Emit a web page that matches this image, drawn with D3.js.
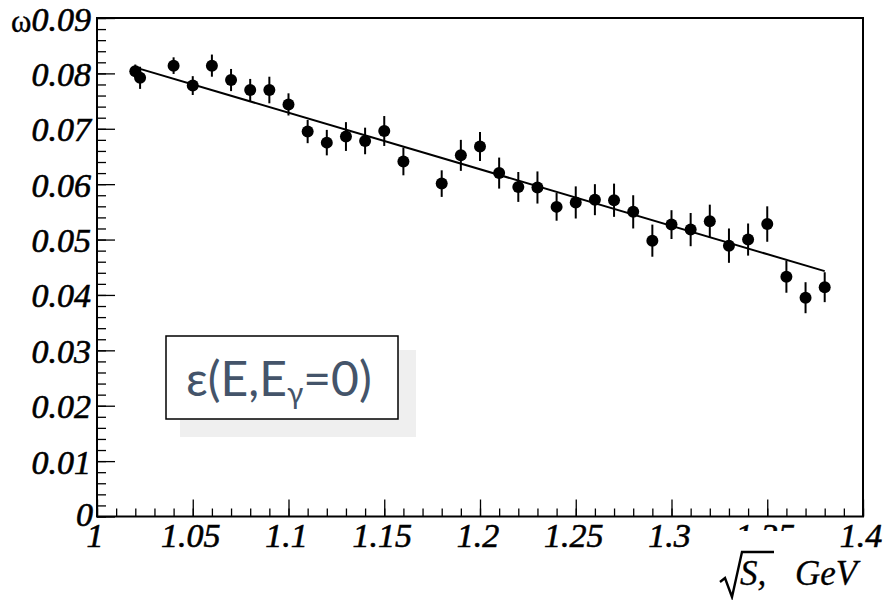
<!DOCTYPE html>
<html>
<head>
<meta charset="utf-8">
<title>omega vs sqrt(s)</title>
<script src="https://d3js.org/d3.v7.min.js"></script>
<style>
body { margin: 0; background: #fff; }
svg { display: block; background: #fff; }
.lbl { font-family: 'Liberation Serif', 'Times New Roman', serif; font-style: italic; font-size: 34px; fill: #000; stroke: #000; stroke-width: 0.6px; }
.title { font-family: 'Liberation Serif', 'Times New Roman', serif; font-style: italic; font-size: 35px; fill: #000; stroke: #000; stroke-width: 0.3px; }
.tick line { stroke: #000; stroke-width: 1.3px; }
.domain { display: none; }
</style>
</head>
<body>
<div id="chart"></div>
<script>
// measured points: sqrt(s) in GeV, omega and its error
var sqrtS = [1.02, 1.0225, 1.04, 1.05, 1.06, 1.07, 1.08, 1.09, 1.10, 1.11, 1.12, 1.13, 1.14, 1.15, 1.16,
             1.18, 1.19, 1.20, 1.21, 1.22, 1.23, 1.24, 1.25, 1.26, 1.27, 1.28, 1.29, 1.30, 1.31, 1.32,
             1.33, 1.34, 1.35, 1.36, 1.37, 1.38];
var omega = [0.0804, 0.0792, 0.0814, 0.0778, 0.0814, 0.0788, 0.0770, 0.0770, 0.0744, 0.0695, 0.0675, 0.0686, 0.0678, 0.0696, 0.0641,
             0.0601, 0.0652, 0.0668, 0.0620, 0.0595, 0.0594, 0.0559, 0.0567, 0.0572, 0.0571, 0.0550, 0.0498, 0.0527, 0.0518, 0.0533,
             0.0489, 0.0500, 0.0528, 0.0433, 0.0395, 0.0414];
var omegaErr = [0.0012, 0.0020, 0.0015, 0.0017, 0.0020, 0.0020, 0.0020, 0.0024, 0.0020, 0.0021, 0.0023, 0.0026, 0.0024, 0.0027, 0.0025,
                0.0024, 0.0028, 0.0026, 0.0028, 0.0027, 0.0029, 0.0025, 0.0029, 0.0028, 0.0030, 0.0030, 0.0029, 0.0026, 0.0030, 0.0030,
                0.0031, 0.0029, 0.0032, 0.0029, 0.0028, 0.0027];
// straight-line fit
var fitX = [1.0207, 1.38];
var fitY = [0.0810, 0.0443];

var xTicks = [1, 1.05, 1.1, 1.15, 1.2, 1.25, 1.3, 1.35, 1.4];
var xTickLabels = ["1", "1.05", "1.1", "1.15", "1.2", "1.25", "1.3", "1.35", "1.4"];
var yTicks = [0, 0.01, 0.02, 0.03, 0.04, 0.05, 0.06, 0.07, 0.08, 0.09];
var yTickLabels = ["0", "0.01", "0.02", "0.03", "0.04", "0.05", "0.06", "0.07", "0.08", "0.09"];

var width = 890, height = 600;
var x = d3.scaleLinear().domain([1, 1.4]).range([97, 863]);
var y = d3.scaleLinear().domain([0, 0.09]).range([516.5, 18]);

var svg = d3.select("#chart").append("svg")
    .attr("width", width).attr("height", height);

// ticks (inside the frame)
var xMinor = d3.range(0, 41).map(function(i) { return 1 + i * 0.01; });
var yMinor = d3.range(0, 46).map(function(i) { return i * 0.002; });

svg.append("g").attr("transform", "translate(0," + y(0) + ")")
    .call(d3.axisBottom(x).tickValues(xMinor).tickSize(-8).tickFormat(""));
svg.append("g").attr("transform", "translate(0," + y(0) + ")")
    .call(d3.axisBottom(x).tickValues(xTicks).tickSize(-17).tickFormat(""));
svg.append("g").attr("transform", "translate(" + x(1) + ",0)")
    .call(d3.axisLeft(y).tickValues(yMinor).tickSize(-9).tickFormat(""));
svg.append("g").attr("transform", "translate(" + x(1) + ",0)")
    .call(d3.axisLeft(y).tickValues(yTicks).tickSize(-18).tickFormat(""));

// frame
svg.append("rect")
    .attr("x", x(1)).attr("y", y(0.09))
    .attr("width", x(1.4) - x(1)).attr("height", y(0) - y(0.09))
    .attr("fill", "none").attr("stroke", "#000").attr("stroke-width", 2);

// tick labels
svg.append("g").selectAll("text")
    .data(xTicks).enter().append("text")
    .attr("class", "lbl")
    .attr("x", function(d) { return x(d) - 2; })
    .attr("y", y(0) + 30.5)
    .attr("text-anchor", "middle")
    .text(function(d, i) { return xTickLabels[i]; });

svg.append("g").selectAll("text")
    .data(yTicks).enter().append("text")
    .attr("class", "lbl")
    .attr("x", function(d) { return d === 0 ? 93 : 91; })
    .attr("y", function(d) { return d === 0 ? y(d) + 9 : y(d) + 12.5; })
    .attr("text-anchor", "end")
    .text(function(d, i) { return yTickLabels[i]; });

// y axis name
svg.append("text")
    .attr("x", 11).attr("y", 32)
    .attr("font-family", "'Liberation Serif', serif")
    .attr("font-size", 31)
    .attr("stroke", "#000").attr("stroke-width", 0.4)
    .text("ω");

// x axis name: sqrt(S), GeV  (white backing clips the 1.35 label like the original)
var xt = svg.append("g");
xt.append("rect").attr("x", 712).attr("y", 531).attr("width", 128).attr("height", 69).attr("fill", "#fff");
xt.append("path")
    .attr("d", "M720,582 L725,578 L732,597 L742,552 L774,552")
    .attr("fill", "none").attr("stroke", "#000").attr("stroke-width", 2.4);
xt.append("text").attr("class", "title")
    .attr("x", 740).attr("y", 585)
    .text("S,");
xt.append("text").attr("class", "title")
    .attr("x", 795).attr("y", 585)
    .text("GeV");

// fit line
svg.append("line")
    .attr("x1", x(fitX[0])).attr("y1", y(fitY[0]))
    .attr("x2", x(fitX[1])).attr("y2", y(fitY[1]))
    .attr("stroke", "#000").attr("stroke-width", 2);

// error bars and points
var pts = sqrtS.map(function(s, i) { return { s: s, w: omega[i], e: omegaErr[i] }; });
svg.append("g").selectAll("line")
    .data(pts).enter().append("line")
    .attr("x1", function(d) { return x(d.s); })
    .attr("x2", function(d) { return x(d.s); })
    .attr("y1", function(d) { return y(d.w + d.e); })
    .attr("y2", function(d) { return y(d.w - d.e); })
    .attr("stroke", "#000").attr("stroke-width", 2);
svg.append("g").selectAll("circle")
    .data(pts).enter().append("circle")
    .attr("cx", function(d) { return x(d.s); })
    .attr("cy", function(d) { return y(d.w); })
    .attr("r", 6)
    .attr("fill", "#000");

// annotation box
var box = svg.append("g");
box.append("rect").attr("x", 180).attr("y", 350).attr("width", 236).attr("height", 87).attr("fill", "#efefef");
box.append("rect").attr("x", 166).attr("y", 336).attr("width", 232).attr("height", 83)
    .attr("fill", "#fff").attr("stroke", "#000").attr("stroke-width", 1.5);
var t = box.append("text")
    .attr("x", 186).attr("y", 396)
    .attr("font-family", "Lato, 'Open Sans', sans-serif")
    .attr("font-size", 48)
    .attr("fill", "#44546a");
t.append("tspan").text("ε(E,E");
t.append("tspan").attr("font-size", 30).attr("dy", 8).text("γ");
t.append("tspan").attr("dy", -8).text("=0)");
</script>
</body>
</html>
